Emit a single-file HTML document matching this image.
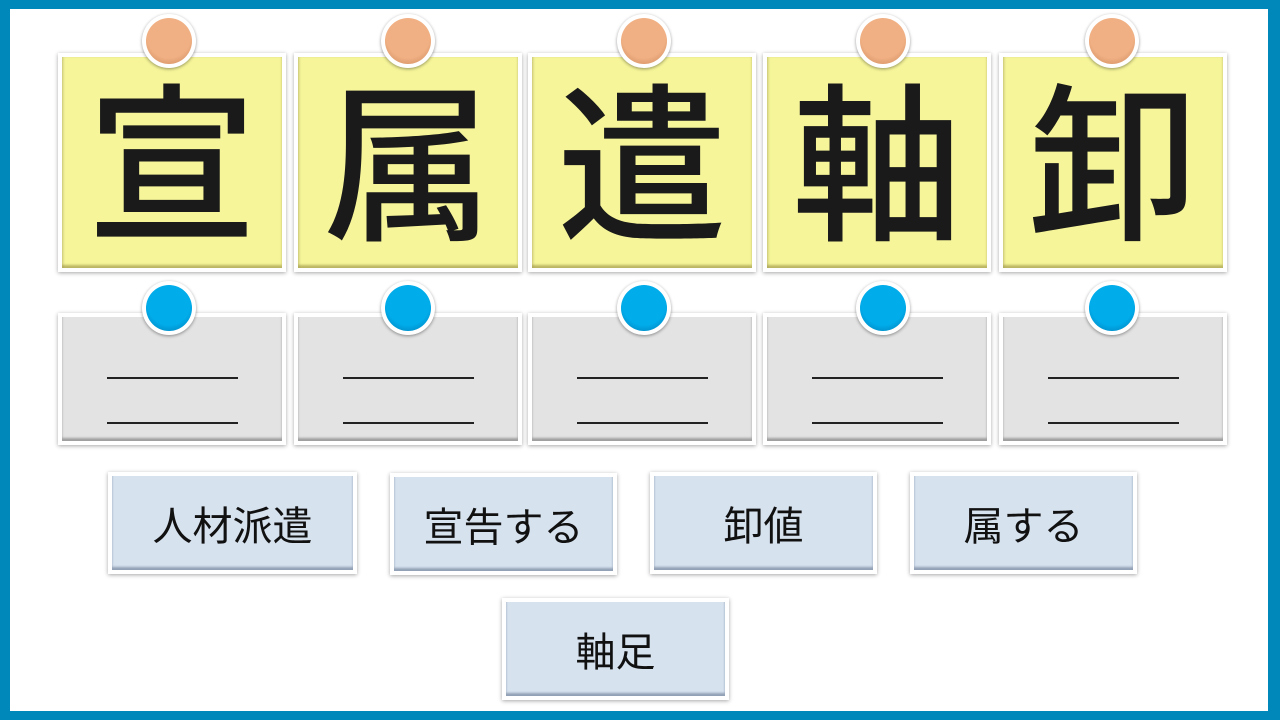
<!DOCTYPE html>
<html><head><meta charset="utf-8"><style>
*{margin:0;padding:0;box-sizing:border-box}
body{width:1280px;height:720px;position:relative;background:#fff;overflow:hidden;font-family:"Liberation Sans","Noto Sans CJK JP",sans-serif}
.frame{position:absolute;left:0;top:0;width:1280px;height:720px;border-style:solid;border-color:#0088ba;border-width:9px 12px 9px 10px}
.card{position:absolute;border:4px solid #fff;box-shadow:0 1px 4px rgba(0,0,0,.35)}
.y{top:53px;height:219px;width:228px;background:#f6f599}
.y::after,.g::after,.b::after{content:"";position:absolute;left:0;right:0;top:0;bottom:0;box-shadow:inset 0 -3px 2px rgba(120,110,40,.45),inset 2px 0 2px rgba(0,0,0,.08)}
.y span{position:absolute;left:0;right:0;top:-4px;text-align:center;font-size:170px;line-height:200px;color:#1a1a1a;font-family:"Noto Sans CJK JP",sans-serif;font-weight:500}
.g{top:313px;height:132px;width:228px;background:#e3e3e3}
.g::after{box-shadow:inset 0 -3px 2px rgba(0,0,0,.3)}
.g i{position:absolute;left:45px;width:131px;height:2px;background:#222}
.pin{position:absolute;width:54px;height:54px;border-radius:50%;background:#fff;box-shadow:0 1px 3px rgba(0,0,0,.4)}
.pin::after{content:"";position:absolute;left:4px;top:4px;width:46px;height:46px;border-radius:50%}
.o::after{background:radial-gradient(circle at 50% 40%,#f0b083 60%,#c98456 100%)}
.bl::after{background:radial-gradient(circle at 50% 40%,#00acea 60%,#0077b0 100%)}
.b{height:102px;width:227px;background:#d7e2ef;font-size:40px;line-height:94px;text-align:center;color:#111;font-family:"Noto Sans CJK JP",sans-serif}
.b::after{box-shadow:inset 0 -3px 2px rgba(60,80,110,.45)}
</style></head><body>
<div class="frame"></div>

<div class="card y" style="left:58px"><span>宣</span></div>
<div class="card y" style="left:294px"><span>属</span></div>
<div class="card y" style="left:528px"><span>遣</span></div>
<div class="card y" style="left:763px"><span>軸</span></div>
<div class="card y" style="left:999px"><span>卸</span></div>

<div class="pin o" style="left:142px;top:14px"></div>
<div class="pin o" style="left:381px;top:14px"></div>
<div class="pin o" style="left:617px;top:14px"></div>
<div class="pin o" style="left:856px;top:14px"></div>
<div class="pin o" style="left:1085px;top:14px"></div>

<div class="card g" style="left:58px"><i style="top:60px"></i><i style="top:105px"></i></div>
<div class="card g" style="left:294px"><i style="top:60px"></i><i style="top:105px"></i></div>
<div class="card g" style="left:528px"><i style="top:60px"></i><i style="top:105px"></i></div>
<div class="card g" style="left:763px"><i style="top:60px"></i><i style="top:105px"></i></div>
<div class="card g" style="left:999px"><i style="top:60px"></i><i style="top:105px"></i></div>

<div class="pin bl" style="left:142px;top:281px"></div>
<div class="pin bl" style="left:381px;top:281px"></div>
<div class="pin bl" style="left:617px;top:281px"></div>
<div class="pin bl" style="left:856px;top:281px"></div>
<div class="pin bl" style="left:1085px;top:281px"></div>

<div class="card b" style="left:108px;top:472px;width:249px">人材派遣</div>
<div class="card b" style="left:390px;top:473px">宣告する</div>
<div class="card b" style="left:650px;top:472px">卸値</div>
<div class="card b" style="left:910px;top:472px">属する</div>
<div class="card b" style="left:502px;top:598px">軸足</div>
</body></html>
